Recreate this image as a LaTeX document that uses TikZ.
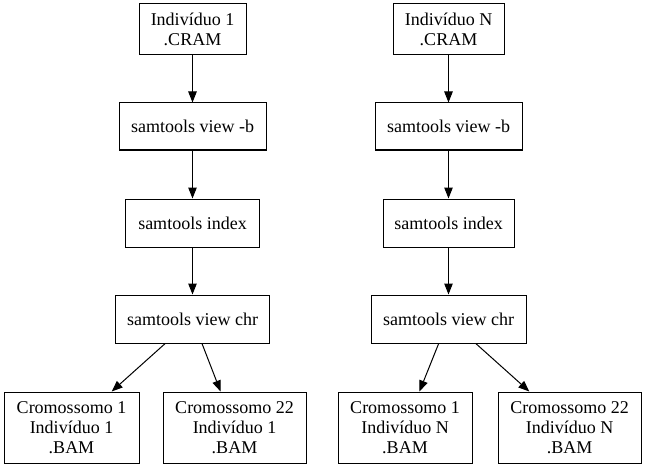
\documentclass[tikz,border=0pt]{standalone}
\usepackage{fontspec}
\setmainfont{Liberation Serif}
\usetikzlibrary{arrows.meta}
\begin{document}
\begin{tikzpicture}[x=1pt,y=-1pt,
  box/.style={draw, line width=1pt, rectangle, inner sep=0pt, align=center,
    font=\fontsize{18}{20}\selectfont},
  arr/.style={draw, line width=1pt, -{Triangle[length=11pt,width=8.5pt]}}]
\useasboundingbox (0,0) rectangle (645,468);
% left column
\node[box, minimum width=107pt, minimum height=51pt] (c1) at (192.5,29.5) {Indivíduo 1\\.CRAM};
\node[box, minimum width=147pt, minimum height=47pt] (v1) at (192.5,126.5) {samtools view -b};
\node[box, minimum width=134pt, minimum height=48pt] (i1) at (192.5,223) {samtools index};
\node[box, minimum width=154pt, minimum height=48pt] (r1) at (192.5,319) {samtools view chr};
\node[box, minimum width=135pt, minimum height=71pt] (a1) at (71.5,427.5) {Cromossomo 1\\Indivíduo 1\\.BAM};
\node[box, minimum width=143pt, minimum height=71pt] (b1) at (234.5,427.5) {Cromossomo 22\\Indivíduo 1\\.BAM};
% right column
\node[box, minimum width=111pt, minimum height=51pt] (cN) at (448.5,29.5) {Indivíduo N\\.CRAM};
\node[box, minimum width=147pt, minimum height=47pt] (vN) at (448.5,126.5) {samtools view -b};
\node[box, minimum width=131pt, minimum height=48pt] (iN) at (448.5,223) {samtools index};
\node[box, minimum width=155pt, minimum height=48pt] (rN) at (448.5,319) {samtools view chr};
\node[box, minimum width=134pt, minimum height=71pt] (aN) at (405,427.5) {Cromossomo 1\\Indivíduo N\\.BAM};
\node[box, minimum width=143pt, minimum height=71pt] (bN) at (569.5,427.5) {Cromossomo 22\\Indivíduo N\\.BAM};
% edges
\draw[arr] (c1) -- (v1);
\draw[arr] (v1) -- (i1);
\draw[arr] (i1) -- (r1);
\draw[arr] (r1) -- (a1);
\draw[arr] (r1) -- (b1);
\draw[arr] (cN) -- (vN);
\draw[arr] (vN) -- (iN);
\draw[arr] (iN) -- (rN);
\draw[arr] (rN) -- (aN);
\draw[arr] (rN) -- (bN);
\end{tikzpicture}
\end{document}
